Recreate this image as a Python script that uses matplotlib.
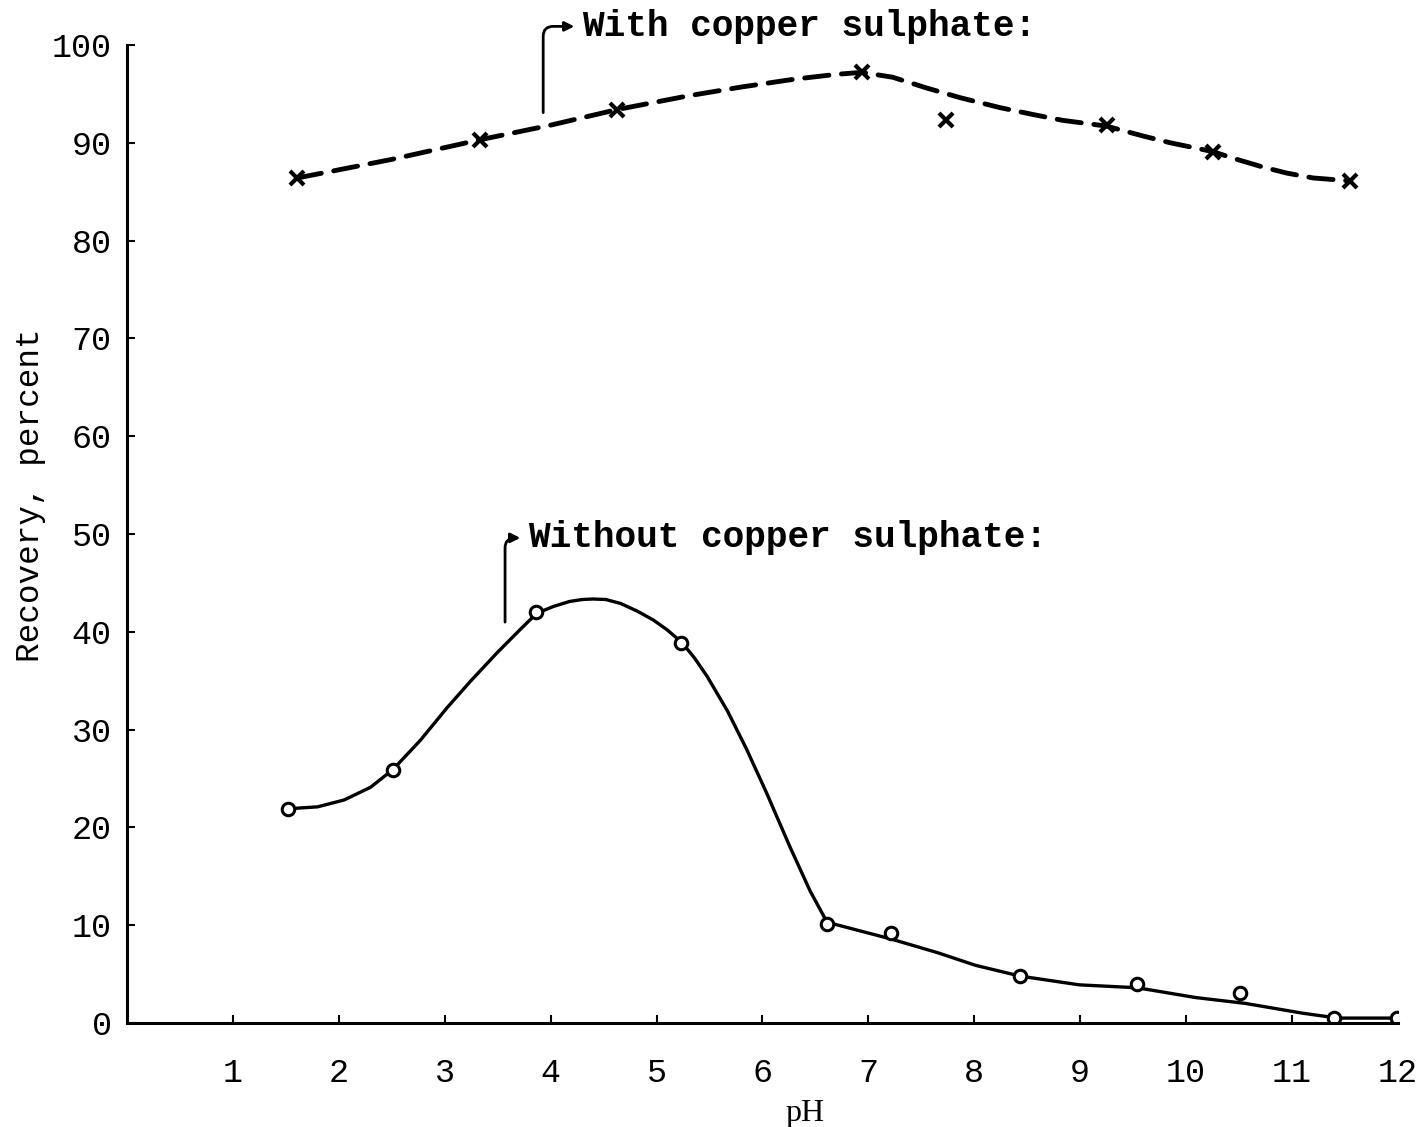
import numpy as np
import matplotlib
matplotlib.use('Agg')
import matplotlib.pyplot as plt

# measured points, with copper sulphate
ph_cu = [1.61, 3.33, 4.63, 6.94, 7.73, 9.25, 10.25, 11.55]
rec_cu = [86.4, 90.3, 93.4, 97.2, 92.3, 91.8, 89.1, 86.1]
# hand-drawn dashed curve through them
curve_ph_cu = [1.61, 2.5, 3.33, 4.0, 4.63, 5.3, 5.8, 6.3, 6.7, 6.94, 7.23, 7.55,
               7.87, 8.24, 8.55, 8.83, 9.25, 9.59, 9.85, 10.25, 10.48, 10.73,
               10.95, 11.2, 11.55]
curve_rec_cu = [86.4, 88.3, 90.3, 91.8, 93.4, 94.8, 95.7, 96.5, 97.0, 97.2, 96.7, 95.6,
                94.6, 93.6, 92.9, 92.3, 91.7, 90.7, 90.0, 89.1, 88.3, 87.5,
                86.9, 86.4, 86.1]

# measured points, without copper sulphate
ph_no = [1.52, 2.51, 3.86, 5.23, 6.61, 7.21, 8.43, 9.54, 10.51, 11.40, 11.99]
rec_no = [21.9, 25.9, 42.0, 38.9, 10.1, 9.2, 4.8, 4.0, 3.1, 0.5, 0.5]
# hand-drawn smooth curve
curve_ph_no = [1.52, 1.8, 2.05, 2.3, 2.51, 2.77, 3.02, 3.24, 3.49, 3.71, 3.87,
               4.03, 4.18, 4.30, 4.40, 4.52, 4.66, 4.82, 4.97, 5.10, 5.24,
               5.36, 5.48, 5.67, 5.85, 6.04, 6.26, 6.45, 6.61,
               7.21, 7.65, 8.01, 8.43, 8.99, 9.54, 10.09, 10.56, 11.10, 11.43, 12.0]
curve_rec_no = [21.9, 22.1, 22.8, 24.1, 25.9, 28.9, 32.2, 34.9, 37.8, 40.2, 41.9,
                42.6, 43.1, 43.3, 43.35, 43.3, 42.9, 42.1, 41.2, 40.2, 38.9,
                37.3, 35.4, 31.9, 28.0, 23.5, 18.0, 13.5, 10.3,
                8.6, 7.2, 5.9, 4.8, 3.9, 3.6, 2.6, 2.0, 1.0, 0.5, 0.5]

xticks = list(range(1, 13))
yticks = list(range(0, 101, 10))

mono = 'Liberation Mono'

fig = plt.figure(figsize=(14.23, 11.27), dpi=100)
ax = fig.add_axes([0.0892, 0.0923, 0.8932, 0.8678])

ax.plot(curve_ph_cu, curve_rec_cu, color='black', lw=3.5, ls=(0, (5, 2.6)),
        solid_capstyle='round', dash_capstyle='round')
ax.plot(ph_cu, rec_cu, ls='none', marker='x', ms=10, mew=3, color='black')

ax.plot(curve_ph_no, curve_rec_no, color='black', lw=2.4,
        solid_joinstyle='round')
ax.plot(ph_no, rec_no, ls='none', marker='o', ms=9, mew=2.2,
        mfc='white', mec='black')

ax.set_xlim(0, 12)
ax.set_ylim(0, 100)
ax.set_xticks(xticks)
ax.set_yticks(yticks)
for s in ['top', 'right']:
    ax.spines[s].set_visible(False)
for s in ['left', 'bottom']:
    ax.spines[s].set_linewidth(2.2)
ax.tick_params(axis='x', direction='in', length=6, width=1.5, pad=25)
ax.tick_params(axis='y', direction='in', length=6, width=1.5, pad=11)
for lab in ax.get_xticklabels() + ax.get_yticklabels():
    lab.set_fontfamily(mono)
    lab.set_fontsize(24)

ax.set_ylabel('Recovery, percent', family=mono, fontsize=23.5)
ax.yaxis.set_label_coords(-0.064, 0.54)
ax.set_xlabel('pH', family='Liberation Serif', fontsize=23)
ax.xaxis.set_label_coords(6.4 / 12, -0.078)

# labels with bent arrows
ax.annotate('', xy=(4.25, 101.9), xytext=(3.93, 92.8), annotation_clip=False,
            arrowprops=dict(arrowstyle='-|>', color='black', lw=2,
                            mutation_scale=14,
                            connectionstyle='angle,angleA=90,angleB=0,rad=10'))
ax.text(4.3, 101.9, 'With copper sulphate:', family=mono, fontsize=26,
        weight='bold', va='center', ha='left', clip_on=False)

ax.annotate('', xy=(3.74, 49.6), xytext=(3.57, 40.7), annotation_clip=False,
            arrowprops=dict(arrowstyle='-|>', color='black', lw=2,
                            mutation_scale=14,
                            connectionstyle='angle,angleA=90,angleB=0,rad=10'))
ax.text(3.79, 49.6, 'Without copper sulphate:', family=mono, fontsize=26,
        weight='bold', va='center', ha='left')

fig.savefig('out.png', dpi=100)
